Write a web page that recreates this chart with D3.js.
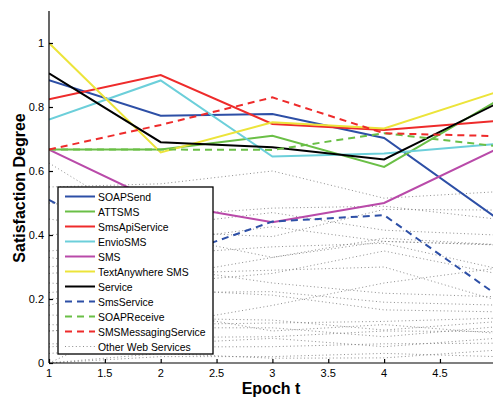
<!DOCTYPE html>
<html>
<head>
<meta charset="utf-8">
<script src="https://cdn.jsdelivr.net/npm/d3@7"></script>
<style>
  body { margin: 0; background: #fff; }
  svg { font-family: "Liberation Sans", Arial, Helvetica, sans-serif; }
</style>
</head>
<body>
<script>
// data
const epochs = [1, 2, 3, 4, 5];
const xTicks = [1, 1.5, 2, 2.5, 3, 3.5, 4, 4.5];
const yTicks = [0, 0.2, 0.4, 0.6, 0.8, 1];

const serviceNames = ['SOAPSend', 'ATTSMS', 'SmsApiService', 'EnvioSMS', 'SMS',
  'TextAnywhere SMS', 'Service', 'SmsService', 'SOAPReceive', 'SMSMessagingService'];
const soapSend = [0.884, 0.773, 0.778, 0.703, 0.455];
const attSms = [0.667, 0.667, 0.71, 0.613, 0.817];
const smsApiService = [0.824, 0.9, 0.747, 0.728, 0.756];
const envioSms = [0.761, 0.883, 0.645, 0.655, 0.684];
const sms = [0.667, 0.5, 0.44, 0.5, 0.667];
const textAnywhere = [1.0, 0.658, 0.752, 0.733, 0.846];
const service = [0.905, 0.69, 0.674, 0.636, 0.809];
const smsService = [0.51, 0.32, 0.442, 0.462, 0.215];
const soapReceive = [0.667, 0.667, 0.666, 0.718, 0.678];
const smsMessaging = [0.667, 0.744, 0.83, 0.718, 0.709];
const serviceValues = [soapSend, attSms, smsApiService, envioSms, sms,
  textAnywhere, service, smsService, soapReceive, smsMessaging];

const otherLabel = 'Other Web Services';
const otherServices = [
  [0.55, 0.56, 0.60, 0.515, 0.535],
  [0.625, 0.41, 0.395, 0.48, 0.478],
  [0.45, 0.40, 0.33, 0.39, 0.37],
  [0.50, 0.46, 0.484, 0.49, 0.45],
  [0.40, 0.43, 0.47, 0.415, 0.40],
  [0.35, 0.38, 0.426, 0.38, 0.37],
  [0.30, 0.34, 0.363, 0.374, 0.296],
  [0.10, 0.12, 0.18, 0.25, 0.296],
  [0.28, 0.30, 0.25, 0.218, 0.207],
  [0.20, 0.22, 0.223, 0.19, 0.181],
  [0.25, 0.23, 0.212, 0.166, 0.16],
  [0.15, 0.14, 0.134, 0.103, 0.129],
  [0.10, 0.12, 0.125, 0.13, 0.14],
  [0.12, 0.11, 0.11, 0.082, 0.113],
  [0.05, 0.08, 0.082, 0.10, 0.098],
  [0.06, 0.06, 0.077, 0.051, 0.077],
  [0.03, 0.05, 0.051, 0.06, 0.062],
  [0.0, 0.03, 0.015, 0.016, 0.04],
  [0.0, 0.02, 0.02, 0.03, 0.02],
  [0.18, 0.27, 0.33, 0.38, 0.369],
  [0.22, 0.25, 0.28, 0.35, 0.28],
  [0.0, 0.16, 0.10, 0.12, 0.093],
  [0.33, 0.28, 0.29, 0.30, 0.197]
];

// styles
const colors = ['#2d4fa6', '#6abf46', '#ee2b2b', '#6ccfda', '#b94aa9',
  '#ece43a', '#000000', '#2d4fa6', '#6abf46', '#ee2b2b'];
const dashed = [false, false, false, false, false, false, false, true, true, true];

const W = 493, H = 398;
const svg = d3.select('body').append('svg')
  .attr('width', W).attr('height', H);

const x = d3.scaleLinear().domain([1, 5]).range([49, 495.8]);
const y = d3.scaleLinear().domain([0, 1.1]).range([363, 11]);

svg.append('clipPath').attr('id', 'plot')
  .append('rect').attr('x', 49).attr('y', 11).attr('width', 447).attr('height', 352);

const line = d3.line()
  .x((d, i) => x(epochs[i]))
  .y(d => y(d));

const plot = svg.append('g').attr('clip-path', 'url(#plot)');

plot.selectAll('.other')
  .data(otherServices)
  .join('path')
  .attr('class', 'other')
  .attr('d', line)
  .attr('fill', 'none')
  .attr('stroke', '#808080')
  .attr('stroke-width', 0.9)
  .attr('stroke-dasharray', '1,2.6');

plot.selectAll('.svc')
  .data(serviceValues)
  .join('path')
  .attr('class', 'svc')
  .attr('d', line)
  .attr('fill', 'none')
  .attr('stroke', (d, i) => colors[i])
  .attr('stroke-width', 2)
  .attr('stroke-dasharray', (d, i) => dashed[i] ? '7,5' : null);

// axes, ticks inside like matlab
const xAxis = svg.append('g')
  .attr('transform', 'translate(0,363)')
  .call(d3.axisTop(x).tickValues(xTicks).tickSize(4).tickFormat(''));
xAxis.select('.domain').attr('d', 'M49,0H496');

svg.append('g').selectAll('text')
  .data(xTicks)
  .join('text')
  .attr('x', d => x(d))
  .attr('y', 377)
  .attr('text-anchor', 'middle')
  .attr('font-size', 11)
  .text(d => d3.format('~g')(d));

const yAxis = svg.append('g')
  .attr('transform', 'translate(49,0)')
  .call(d3.axisRight(y).tickValues(yTicks).tickSize(4).tickFormat(''));
yAxis.select('.domain').attr('d', 'M0,363V11');

svg.append('g').selectAll('text')
  .data(yTicks)
  .join('text')
  .attr('x', 44)
  .attr('y', d => y(d) + 4)
  .attr('text-anchor', 'end')
  .attr('font-size', 11)
  .text(d => d3.format('~g')(d));

svg.selectAll('.domain, .tick line').attr('stroke', '#000').attr('stroke-width', 1.2);

svg.append('text')
  .attr('x', 271).attr('y', 394)
  .attr('text-anchor', 'middle')
  .attr('font-size', 16).attr('font-weight', 'bold')
  .text('Epoch t');

svg.append('text')
  .attr('transform', 'translate(25,188) rotate(-90)')
  .attr('text-anchor', 'middle')
  .attr('font-size', 16).attr('font-weight', 'bold')
  .text('Satisfaction Degree');

// legend
const legend = svg.append('g').attr('transform', 'translate(58,187)');
legend.append('rect')
  .attr('width', 155).attr('height', 167)
  .attr('fill', '#fff').attr('stroke', '#000').attr('stroke-width', 1.3);

const legendItems = serviceNames.map((n, i) => ({ name: n, color: colors[i], dash: dashed[i] ? '7,5' : null, w: 2 }))
  .concat([{ name: otherLabel, color: '#808080', dash: '1,2.6', w: 0.9 }]);

const li = legend.selectAll('.item')
  .data(legendItems)
  .join('g')
  .attr('class', 'item')
  .attr('transform', (d, i) => `translate(0,${9.5 + i * 15})`);
li.append('line')
  .attr('x1', 7).attr('x2', 37)
  .attr('stroke', d => d.color)
  .attr('stroke-width', d => d.w)
  .attr('stroke-dasharray', d => d.dash);
li.append('text')
  .attr('x', 40).attr('y', 4)
  .attr('font-size', 10.4)
  .text(d => d.name);
</script>
</body>
</html>
